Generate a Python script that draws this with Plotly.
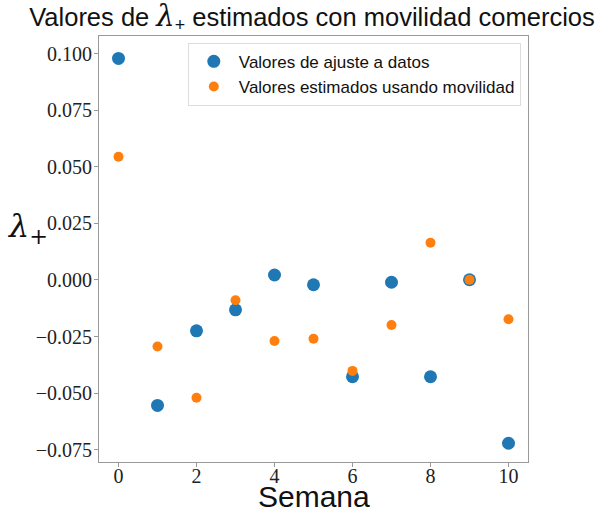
import plotly.graph_objects as go

semanas = [0, 1, 2, 3, 4, 5, 6, 7, 8, 9, 10]
ajuste = [0.0980, -0.0555, -0.0225, -0.0132, 0.0022, -0.0021, -0.0428, -0.0010, -0.0428, 0.0001, -0.0722]
movilidad = [0.0545, -0.0294, -0.0521, -0.0090, -0.0270, -0.0260, -0.0402, -0.0199, 0.0165, 0.0001, -0.0174]

x_ticks = [0, 2, 4, 6, 8, 10]
y_ticks = [0.100, 0.075, 0.050, 0.025, 0.000, -0.025, -0.050, -0.075]
y_labels = [("−" if v < 0 else "") + f"{abs(v):.3f}" for v in y_ticks]

fig = go.Figure()
fig.add_trace(go.Scatter(x=semanas, y=ajuste, mode="markers", name="Valores de ajuste a datos",
                         marker=dict(color="#1f77b4", size=13)))
fig.add_trace(go.Scatter(x=semanas, y=movilidad, mode="markers", name="Valores estimados usando movilidad",
                         marker=dict(color="#ff7f0e", size=10)))

axis_common = dict(showline=True, linecolor="#999999", linewidth=1, mirror=True,
                   ticks="outside", ticklen=4, tickcolor="#999999", showgrid=False, zeroline=False,
                   tickfont=dict(family="Liberation Serif", size=20, color="#222222"))

fig.update_xaxes(range=[-0.5, 10.5], tickvals=x_ticks, ticklabelstandoff=-8, **axis_common)
fig.update_yaxes(range=[-0.0805, 0.1079], tickvals=y_ticks, ticktext=y_labels, ticklabelstandoff=-2, **axis_common)

title_text = ("Valores de <span style='font-family:DejaVu Serif;font-size:29px'><i>λ</i></span>"
              "<sub>+</sub> estimados con movilidad comercios")

fig.update_layout(
    width=604, height=513,
    margin=dict(l=99, r=76, t=36, b=51),
    plot_bgcolor="white", paper_bgcolor="white",
    font=dict(family="Liberation Sans", color="#111111"),
    title=dict(text=title_text,
               x=312 / 604, xanchor="center", y=0.985, yanchor="top",
               font=dict(size=25.5, family="Liberation Sans", color="#111111")),
    legend=dict(x=0.207, y=0.984, xanchor="left", yanchor="top",
                bordercolor="#dddddd", borderwidth=1, bgcolor="rgba(255,255,255,0.8)",
                font=dict(size=17, family="Liberation Sans", color="#111111"),
                itemsizing="trace", itemwidth=40),
    showlegend=True,
)

fig.add_annotation(text="Semana", xref="paper", yref="paper", x=0.5, y=0, yshift=-53,
                   xanchor="center", yanchor="bottom", showarrow=False,
                   font=dict(size=30, family="Liberation Sans", color="#111111"))
fig.add_annotation(text="<i>λ</i><sub>+</sub>", xref="paper", yref="paper", x=0, xshift=-49,
                   y=1 - (228 - 36) / 426, yanchor="middle", xanchor="right",
                   showarrow=False, font=dict(size=32, family="DejaVu Serif", color="#111111"))

fig.write_html("out.html", config={"displayModeBar": False},
               post_script="document.body.style.margin='0';")
